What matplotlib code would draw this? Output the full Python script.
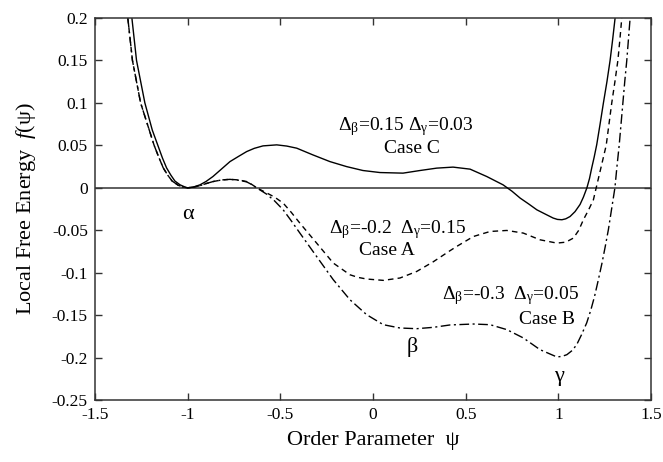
import matplotlib
matplotlib.use('Agg')
import matplotlib.pyplot as plt

plt.rcParams['font.family'] = ['Liberation Serif', 'DejaVu Serif']
plt.rcParams['mathtext.fontset'] = 'custom'
plt.rcParams['mathtext.rm'] = 'Liberation Serif'
plt.rcParams['mathtext.it'] = 'Liberation Serif:italic'
plt.rcParams['axes.unicode_minus'] = False

# -- values
# Case C (solid)
psi_c = [-1.300, -1.275, -1.230, -1.190, -1.160, -1.135, -1.113, -1.090,
         -1.068, -1.040, -1.014, -1.000, -0.970, -0.933, -0.900, -0.863,
         -0.771, -0.725, -0.681, -0.640, -0.593, -0.519, -0.465, -0.411,
         -0.324, -0.232, -0.142, -0.054, 0.038, 0.162, 0.254, 0.344, 0.432,
         0.524, 0.614, 0.702, 0.750, 0.794, 0.840, 0.884, 0.930, 0.972,
         0.995, 1.019, 1.040, 1.063, 1.090, 1.117, 1.135, 1.154, 1.168,
         1.180, 1.193, 1.207, 1.225, 1.243, 1.262, 1.279, 1.293, 1.306]
f_c = [0.200, 0.150, 0.100, 0.068, 0.050, 0.035, 0.0235, 0.015,
       0.008, 0.0035, 0.001, 0.000, 0.0008, 0.0035, 0.0075, 0.0133,
       0.0309, 0.0370, 0.0427, 0.0465, 0.0494, 0.0506, 0.0492, 0.0467,
       0.0388, 0.0309, 0.0250, 0.0204, 0.0180, 0.0173, 0.0204, 0.0232, 0.0244,
       0.0220, 0.0133, 0.0035, -0.0040, -0.0121, -0.0190, -0.0259, -0.0310, -0.0356,
       -0.0372, -0.0376, -0.0365, -0.0338, -0.0280, -0.0196, -0.0110, 0.000, 0.0110,
       0.0235, 0.0360, 0.0509, 0.0750, 0.100, 0.125, 0.150, 0.175, 0.200]

# Case A (dashed)
psi_a = [-1.322, -1.297, -1.253, -1.180, -1.155, -1.131, -1.107, -1.083,
         -1.050, -1.024, -1.000, -0.970, -0.933, -0.900, -0.862, -0.815,
         -0.771, -0.725, -0.681, -0.650, -0.627, -0.573, -0.530, -0.484,
         -0.440, -0.394, -0.304, -0.214, -0.124, -0.080, -0.034, 0.056, 0.146,
         0.236, 0.326, 0.416, 0.452, 0.542, 0.632, 0.722, 0.811, 0.901,
         0.992, 1.040, 1.081, 1.110, 1.135, 1.163, 1.189, 1.204, 1.230,
         1.258, 1.273, 1.288, 1.305, 1.321, 1.332, 1.342]
f_a = [0.200, 0.150, 0.100, 0.050, 0.036, 0.0235, 0.015, 0.008,
       0.003, 0.0008, 0.000, 0.0008, 0.0025, 0.0050, 0.0074, 0.0093,
       0.0100, 0.0093, 0.0074, 0.0035, 0.000, -0.0060, -0.0110, -0.0180,
       -0.0290, -0.0416, -0.0650, -0.0886, -0.1024, -0.1055, -0.1074, -0.1090, -0.1062,
       -0.0985, -0.0870, -0.0740, -0.0690, -0.0573, -0.0514, -0.0502, -0.0533, -0.0612,
       -0.0651, -0.0640, -0.0592, -0.0500, -0.0376, -0.0260, -0.0141, 0.000, 0.024,
       0.050, 0.075, 0.100, 0.125, 0.150, 0.175, 0.200]

# Case B (dash-dot)
psi_b = [-1.322, -1.297, -1.253, -1.180, -1.155, -1.131, -1.107, -1.083,
         -1.050, -1.024, -1.000, -0.970, -0.933, -0.900, -0.862, -0.815,
         -0.771, -0.725, -0.681, -0.650, -0.627, -0.573, -0.530, -0.484,
         -0.440, -0.394, -0.304, -0.214, -0.124, -0.034, 0.056, 0.146, 0.236,
         0.326, 0.416, 0.542, 0.632, 0.722, 0.811, 0.901, 0.992, 1.020,
         1.046, 1.075, 1.099, 1.125, 1.153, 1.175, 1.195, 1.215, 1.235,
         1.253, 1.270, 1.295, 1.305, 1.316, 1.328, 1.338, 1.348, 1.358,
         1.369, 1.378, 1.387]
f_b = [0.200, 0.150, 0.100, 0.050, 0.036, 0.0235, 0.015, 0.008,
       0.003, 0.0008, 0.000, 0.0008, 0.0025, 0.0050, 0.0074, 0.0093,
       0.0100, 0.0090, 0.0070, 0.0035, 0.000, -0.0075, -0.0155, -0.0259,
       -0.0390, -0.0533, -0.0808, -0.1082, -0.1318, -0.1494, -0.1612, -0.1651, -0.1659,
       -0.1643, -0.1615, -0.1604, -0.1612, -0.1670, -0.1768, -0.1906, -0.1992, -0.1985,
       -0.1965, -0.1915, -0.1847, -0.1730, -0.1590, -0.1440, -0.1280, -0.1090, -0.0890,
       -0.0690, -0.0490, -0.0140, 0.000, 0.025, 0.050, 0.075, 0.100, 0.125,
       0.150, 0.175, 0.200]

x_ticks = [-1.5, -1, -0.5, 0, 0.5, 1, 1.5]
x_tick_labels = ['-1.5', '-1', '-0.5', '0', '0.5', '1', '1.5']
y_ticks = [-0.25, -0.2, -0.15, -0.1, -0.05, 0, 0.05, 0.1, 0.15, 0.2]
y_tick_labels = ['-0.25', '-0.2', '-0.15', '-0.1', '-0.05', '0', '0.05', '0.1', '0.15', '0.2']

# -- plot
fig = plt.figure(figsize=(6.63, 4.62), dpi=100)
ax = fig.add_axes([0.143, 0.134, 0.839, 0.827])

ax.axhline(0, color='#333333', linewidth=1.1, zorder=1)
ax.plot(psi_c, f_c, color='black', linewidth=1.0, linestyle='-')
ax.plot(psi_a, f_a, color='black', linewidth=1.0, linestyle=(0, (4, 3)))
ax.plot(psi_b, f_b, color='black', linewidth=1.0,
        linestyle=(0, (7, 2.5, 1.5, 2.5)))

# annotate
db = r'$\Delta_{\mathrm{\beta}}$'
dg = r'$\Delta_{\mathrm{\gamma}}$'
txt = dict(ha='center', va='center', fontsize=14)
ax.text(0.178, 0.0718, db + '=0.15 ' + dg + '=0.03', **txt)
ax.text(0.209, 0.0459, 'Case C', **txt)
ax.text(0.135, -0.0494, db + '=-0.2  ' + dg + '=0.15', **txt)
ax.text(0.074, -0.0741, 'Case A', **txt)
ax.text(0.740, -0.127, db + '=-0.3  ' + dg + '=0.05', **txt)
ax.text(0.939, -0.155, 'Case B', **txt)
ax.text(-1.0, -0.0318, 'α', ha='center', va='center', fontsize=16)
ax.text(0.211, -0.188, 'β', ha='center', va='center', fontsize=16)
ax.text(1.004, -0.222, 'γ', ha='center', va='center', fontsize=16)

ax.set_xlim(-1.5, 1.5)
ax.set_ylim(-0.25, 0.2)
ax.set_xticks(x_ticks)
ax.set_xticklabels(x_tick_labels)
ax.set_yticks(y_ticks)
ax.set_yticklabels(y_tick_labels)
ax.tick_params(direction='in', length=5, width=1.0, top=True, right=True,
               labelsize=12.5, colors='#333333', labelcolor='black', pad=5)
for sp in ax.spines.values():
    sp.set_linewidth(1.1)
    sp.set_color('#333333')

ax.set_xlabel('Order Parameter  ψ', fontsize=16, labelpad=6)
ax.set_ylabel('Local Free Energy  $f$(ψ)', fontsize=16, labelpad=10)

plt.savefig('out.png', dpi=100)
plt.close()
